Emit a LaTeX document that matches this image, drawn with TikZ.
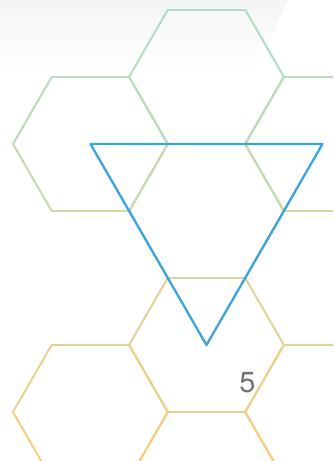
\documentclass[tikz,border=0pt]{standalone}
\usepackage{fontspec}
\setsansfont{TeX Gyre Heros}
\definecolor{hextop}{RGB}{170,224,200}
\definecolor{hexbot}{RGB}{248,205,128}
\definecolor{triblue}{RGB}{58,165,220}
\definecolor{labelgray}{RGB}{112,112,112}
\tikzset{
  hexedge/.style={line width=2pt, line cap=round},
  triline/.style={triblue, line width=2.3pt, line join=round},
}
\begin{document}
\begin{tikzpicture}[x=1pt, y=-1pt]
    \useasboundingbox (0,0) rectangle (333,461);
    \clip (0,0) rectangle (333,461);
    % Shadow at the top
    \shade[top color=black!4, bottom color=white] (0,0) -- (288,0) -- (255,70) -- (0,70) -- cycle;
    % Honeycomb
    \foreach \cx/\cy in {206.5/77, 90.5/144, 322.5/144, 206.5/211, 206.5/345, 90.5/412, 322.5/412, 206.5/479}{
        \foreach \k in {0,...,5}{
            \pgfmathtruncatemacro{\mix}{max(0,min(100,(\cy+38.75*(sin(60*\k)+sin(60*\k+60))-10)/4.51))}
            \colorlet{edgecol}{hexbot!\mix!hextop}
            \draw[hexedge, edgecol] ({\cx+77.5*cos(60*\k)},{\cy+77.5*sin(60*\k)}) -- ({\cx+77.5*cos(60*\k+60)},{\cy+77.5*sin(60*\k+60)});
        }
    }
    % Triangle
    \coordinate (tl) at (90.5,144);
    \coordinate (tr) at (322.5,144);
    \coordinate (tb) at (206.5,345);
    \draw[triline] (tl) -- (tr) -- (tb) -- cycle;
    % Label
    \node[font=\sffamily\fontsize{29}{29}\selectfont, text=labelgray] (five) at (247.5,382.5) {5};
\end{tikzpicture}
\end{document}
